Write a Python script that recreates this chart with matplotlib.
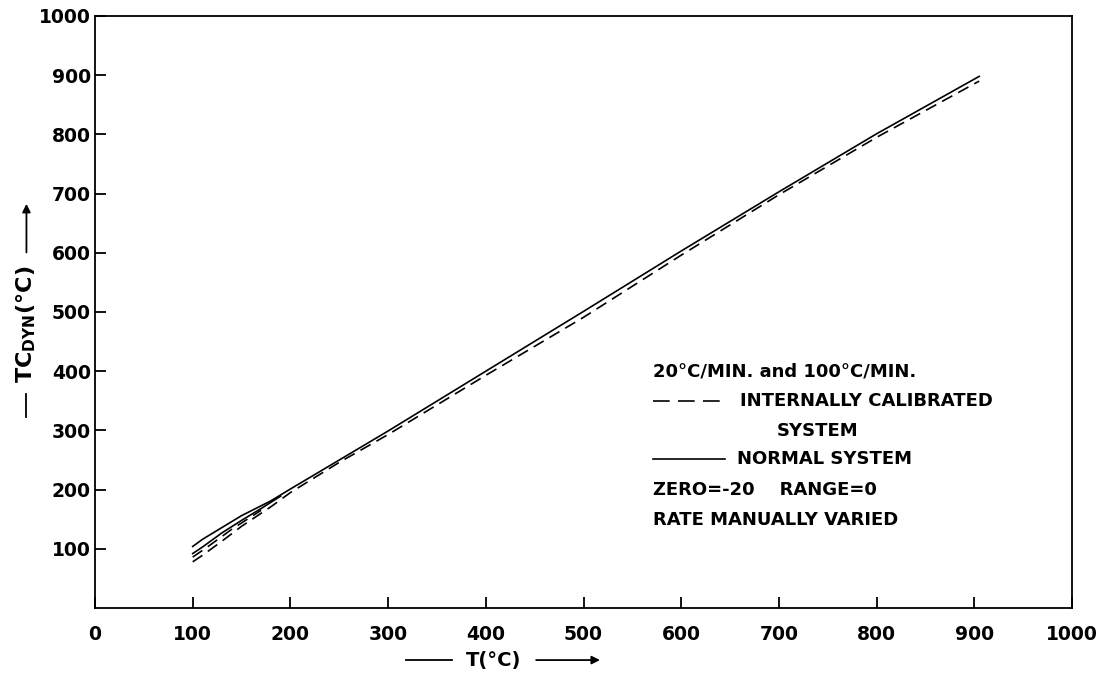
import matplotlib
matplotlib.use("Agg")
import matplotlib.pyplot as plt

# Normal system (solid), two heating rates
normal_a_x = [100, 110, 130, 150, 180, 200, 250, 300, 400, 500, 600, 700, 800, 905]
normal_a_y = [104, 116, 136, 156, 181, 201, 250, 299, 400, 501, 603, 703, 801, 898]
normal_b_x = [100, 110, 130, 150, 170, 190]
normal_b_y = [92, 103, 127, 148, 168, 189]

# Internally calibrated system (dashed), two heating rates
calib_a_x = [100, 110, 130, 150, 180, 200, 250, 300, 400, 500, 600, 700, 800, 905]
calib_a_y = [78, 89, 113, 138, 171, 195, 246, 293, 393, 491, 596, 698, 795, 890]
calib_b_x = [100, 115, 140, 170]
calib_b_y = [86, 103, 133, 165]

x_ticks = [0, 100, 200, 300, 400, 500, 600, 700, 800, 900, 1000]
y_ticks = [100, 200, 300, 400, 500, 600, 700, 800, 900, 1000]

plt.rcParams["font.family"] = "DejaVu Sans"
plt.rcParams["font.weight"] = "bold"
plt.rcParams["mathtext.default"] = "bf"

fig = plt.figure(figsize=(11.02, 6.77), dpi=100)
ax = fig.add_axes([0.0862, 0.1019, 0.8866, 0.8745])

lw = 1.2
ax.plot(normal_a_x, normal_a_y, color="black", lw=lw)
ax.plot(normal_b_x, normal_b_y, color="black", lw=lw)
ax.plot(calib_a_x, calib_a_y, color="black", lw=lw, dashes=(7, 4))
ax.plot(calib_b_x, calib_b_y, color="black", lw=lw, dashes=(7, 4))

ax.set_xlim(0, 1000)
ax.set_ylim(0, 1000)
ax.set_xticks(x_ticks)
ax.set_xticklabels([str(t) for t in x_ticks])
ax.set_yticks(y_ticks)
ax.set_yticklabels([str(t) for t in y_ticks])
ax.tick_params(direction="in", length=8, width=1.3, labelsize=13.5, colors="black")
ax.tick_params(axis="x", pad=12)
ax.tick_params(axis="y", pad=3)
for lab in ax.get_xticklabels() + ax.get_yticklabels():
    lab.set_fontweight("bold")
for s in ax.spines.values():
    s.set_linewidth(1.3)

# axis labels with arrows
fig.text(0.024, 0.521, "TC$_{DYN}$(°C)", rotation=90, ha="center", va="center",
         fontsize=16, fontweight="bold")
fig.add_artist(plt.Line2D([0.024, 0.024], [0.384, 0.418], color="black", lw=1.3))
ax.annotate("", xy=(0.024, 0.703), xytext=(0.024, 0.623), xycoords="figure fraction",
            arrowprops=dict(arrowstyle="-|>", color="black", lw=1.3, mutation_scale=12))

fig.text(0.448, 0.025, "T(°C)", ha="center", va="center", fontsize=14, fontweight="bold")
fig.add_artist(plt.Line2D([0.368, 0.410], [0.025, 0.025], color="black", lw=1.3))
ax.annotate("", xy=(0.547, 0.025), xytext=(0.484, 0.025), xycoords="figure fraction",
            arrowprops=dict(arrowstyle="-|>", color="black", lw=1.3, mutation_scale=12))

# legend block
tx = 0.571
fs = 13
ax.text(tx, 0.400, "20°C/MIN. and 100°C/MIN.", transform=ax.transAxes, fontsize=fs,
        fontweight="bold", va="center")
ax.plot([tx, 0.640], [0.350, 0.350], transform=ax.transAxes, color="black", lw=lw,
        dashes=(10, 5))
ax.text(0.660, 0.350, "INTERNALLY CALIBRATED", transform=ax.transAxes, fontsize=fs,
        fontweight="bold", va="center")
ax.text(0.698, 0.299, "SYSTEM", transform=ax.transAxes, fontsize=fs,
        fontweight="bold", va="center")
ax.plot([tx, 0.645], [0.252, 0.252], transform=ax.transAxes, color="black", lw=lw)
ax.text(0.657, 0.252, "NORMAL SYSTEM", transform=ax.transAxes, fontsize=fs,
        fontweight="bold", va="center")
ax.text(tx, 0.199, "ZERO=-20    RANGE=0", transform=ax.transAxes, fontsize=fs,
        fontweight="bold", va="center")
ax.text(tx, 0.149, "RATE MANUALLY VARIED", transform=ax.transAxes, fontsize=fs,
        fontweight="bold", va="center")

fig.savefig("out.png", dpi=100)
